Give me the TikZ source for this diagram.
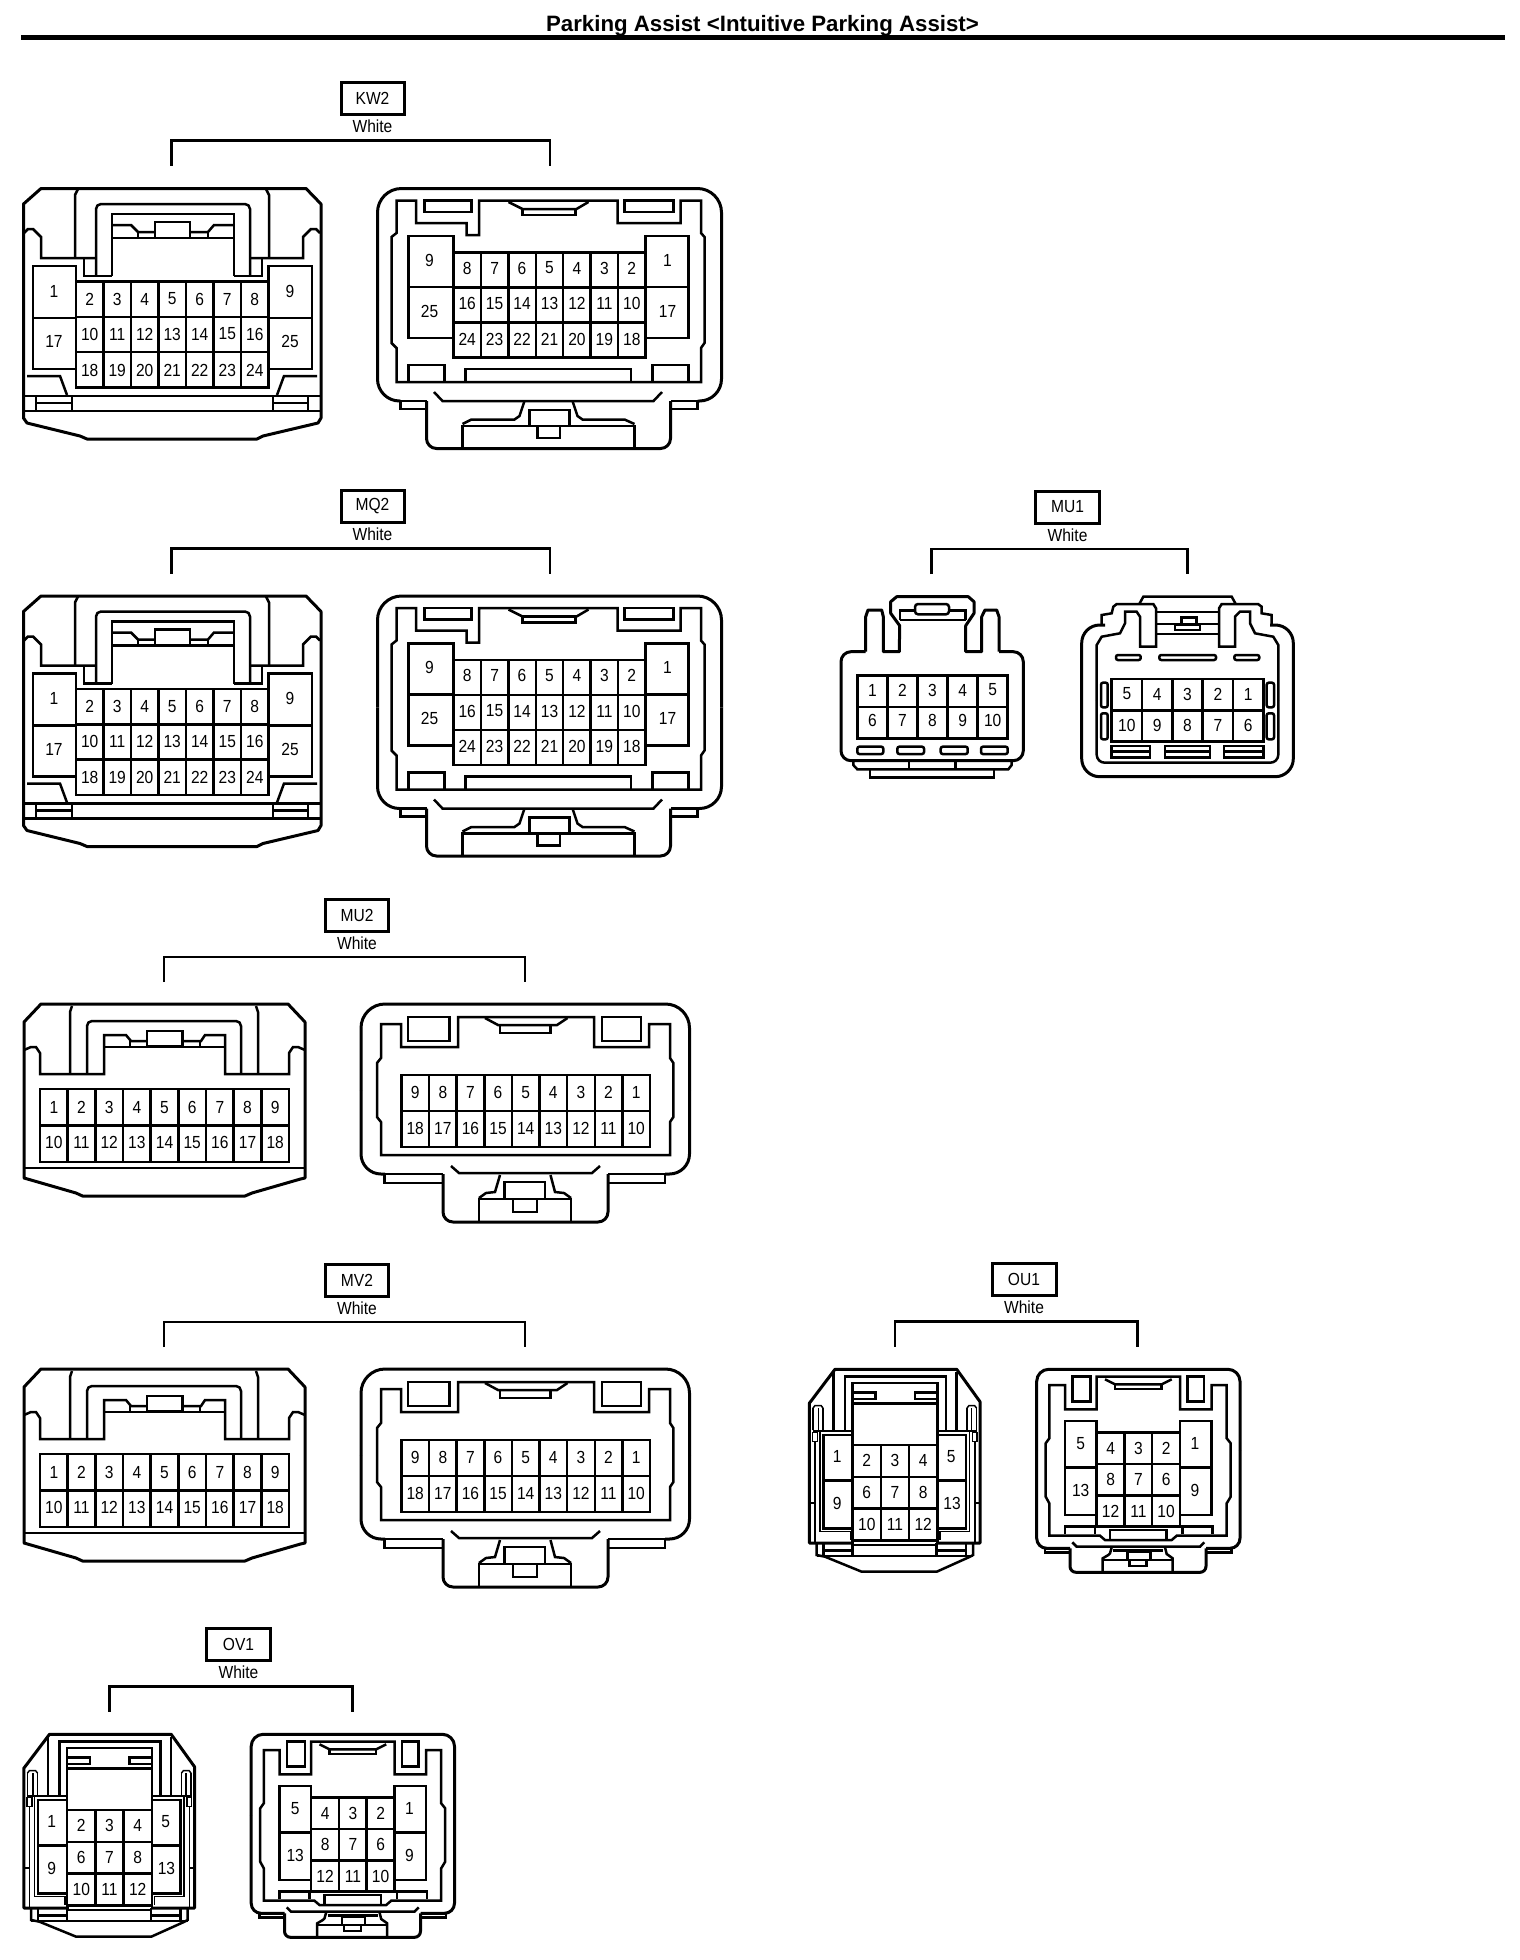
\documentclass[tikz,border=0pt]{standalone}
\usepackage{fontspec}
\setmainfont{Liberation Sans}
\newfontfamily\lblfont[FakeStretch=0.89]{Liberation Sans}
\tikzset{
  every path/.append style={line cap=butt},
  ln/.style={draw=black,line width=2.5pt,line join=miter},
  thinln/.style={draw=black,line width=1.5pt,line join=miter},
  ol/.style={draw=black,line width=3pt,line join=round},
  pinlab/.style={inner sep=0pt,font=\lblfont\fontsize{17.5}{17.5}\selectfont},
  tagbox/.style={draw=black,line width=3pt,inner sep=0pt,minimum height=32pt,font=\lblfont\fontsize{17.5}{17.5}\selectfont},
  colorlab/.style={inner sep=0pt,font=\lblfont\fontsize{17.5}{17.5}\selectfont}
}
% grid of pin cells
\newcommand{\cellgrid}[6]{%
  \draw[ln] (#1,#4) rectangle (#2,#5);
  \foreach \ci in {1,...,#3}{\draw[ln] ({#1+(#2-#1)*\ci/#3},#4) -- ({#1+(#2-#1)*\ci/#3},#5);}
  \foreach \cj in {1,...,#6}{\draw[ln] (#1,{#4+(#5-#4)*\cj/#6}) -- (#2,{#4+(#5-#4)*\cj/#6});}
}
% row of pin labels: prefix, x0, cell width, y, list
\newcommand{\pinrow}[5]{%
  \foreach \plab [count=\pi from 0] in {#5}{\node[pinlab] (#1-\plab) at ({#2+(\pi+.5)*#3},#4) {\plab};}
}
% header: prefix, text, cx, width, y, xa, xb
\newcommand{\head}[7]{%
  \node[tagbox,minimum width=#4pt] (#1) at (#3,#5) {#2};
  \node[colorlab] (#1w) at (#3,{#5+28}) {White};
  \coordinate (#1a) at (#6,{#5+67});
  \coordinate (#1b) at (#7,{#5+67});
  \draw[ln] (#1a) -- ++(0,-25) -| (#1b);
}
\newcommand{\kwpair}[1]{%
  % left connector
  \draw[ol] (41,188.5)--(306,188.5)--(321,204)--(321,418)--(318,423)--(263,436)--(257,439)--(87,439)--(80,436)--(27,423)--(23.5,418)--(23.5,204)--cycle;
  \draw[ln] (75,258)--(75,195)--(78,189);
  \draw[ln] (269,258)--(269,195)--(266,189);
  \draw[ln] (24,233)--(28,229)--(33,229)--(41,237)--(41,258)--(96,258);
  \draw[ln] (320,233)--(316,229)--(311,229)--(303,237)--(303,258)--(250,258);
  \draw[ln,rounded corners=5pt] (96,276)--(96,204)--(250,204)--(250,276);
  \draw[ln] (112,276)--(112,214)--(234,214)--(234,276);
  \draw[ln] (84,258)--(84,276)--(112,276);
  \draw[ln] (234,276)--(262,276)--(262,258);
  \draw[ln] (112,225)--(131,225)--(138,232)--(155,232);
  \draw[ln] (190,232)--(208,232)--(214,225)--(234,225);
  \draw[ln] (155,238) rectangle (190,222);
  \draw[ln] (112,238)--(234,238);
  \draw[ln] (138,232)--(138,238);
  \draw[ln] (208,232)--(208,238);
  \draw[ln] (33,266) rectangle (76,369);
  \draw[ln] (33,318)--(76,318);
  \draw[ln] (268.5,266) rectangle (312,369);
  \draw[ln] (268.5,318)--(312,318);
  \cellgrid{76}{268.5}{7}{281.5}{387.5}{3}
  \draw[ln] (27,376)--(60,376)--(67,395);
  \draw[ln] (317,376)--(284,376)--(277,395);
  \draw[ln] (23,396)--(321,396);
  \draw[ln] (23,411)--(321,411);
  \foreach \vx in {36,72,273,308}{\draw[ln] (\vx,396)--(\vx,411);}
  \draw[ln] (36,403)--(72,403);
  \draw[ln] (273,403)--(308,403);
  \pinrow{#1l}{76}{27.5}{299}{2,3,4,5,6,7,8}
  \pinrow{#1l}{76}{27.5}{334}{10,11,12,13,14,15,16}
  \pinrow{#1l}{76}{27.5}{370}{18,19,20,21,22,23,24}
  \node[pinlab] (#1l-1) at (54,291) {1};
  \node[pinlab] (#1l-17) at (54,341.5) {17};
  \node[pinlab] (#1l-9) at (290,291) {9};
  \node[pinlab] (#1l-25) at (290,341.5) {25};
  % right connector
  \begin{scope}[shift={(-1.5,0)}]
  \draw[ol,rounded corners=24pt] (379,300)--(379,188.5)--(723,188.5)--(723,300);
  \draw[ol,rounded corners=22pt] (379,300)--(379,401)--(402,401);
  \draw[ol,rounded corners=22pt] (723,300)--(723,401)--(699,401);
  \draw[ln] (402,401)--(402,409)--(428,409);
  \draw[ln] (699,401)--(699,409)--(672,409);
  \draw[ln] (399,401)--(428,401);
  \draw[ln] (702,401)--(672,401);
  \draw[ol,rounded corners=10pt] (428,401)--(428,448.5)--(672,448.5)--(672,401);
  \draw[ln] (398,200.5)--(417.5,200.5)--(417.5,223)--(468,223)--(468,235)--(480.5,235)--(480.5,200.5)--(619,200.5)--(619,223)--(682,223)--(682,200.5)--(702.5,200.5)--(702.5,233)--(706,237)--(706,343)--(702.5,348)--(702.5,382)--(398,382)--(398,348)--(393,343)--(393,237)--(398,233)--cycle;
  \draw[ln] (426,200.5) rectangle (473,212);
  \draw[ln] (626,200.5) rectangle (675,212);
  \draw[ln] (510,202)--(524,209)--(578,209)--(590,202);
  \draw[ln] (524,209) rectangle (577,215);
  \draw[ln] (410,236) rectangle (455,338);
  \draw[ln] (410,287)--(455,287);
  \draw[ln] (647,236) rectangle (690,338);
  \draw[ln] (647,287)--(690,287);
  \cellgrid{455}{647}{7}{252.5}{357.5}{3}
  \draw[ln] (410,382)--(410,365)--(446,365)--(446,382);
  \draw[ln] (467,382)--(467,369)--(632.5,369)--(632.5,382);
  \draw[ln] (654,382)--(654,365)--(690,365)--(690,382);
  \draw[ln] (435.5,392)--(444,401)--(655,401)--(663.5,392);
  \draw[ln] (526,401)--(521,416)--(516,419.5)--(473,419.5)--(464,424);
  \draw[ln] (574,401)--(579,416)--(584,419.5)--(626,419.5)--(636,424);
  \draw[ln] (464,448)--(464,426)--(636,426)--(636,448);
  \draw[ln] (531,426)--(531,410)--(571,410)--(571,426);
  \draw[ln] (539,426)--(539,438)--(561.6,438)--(561.6,426);
  \pinrow{#1r}{455}{27.43}{268}{8,7,6,5,4,3,2}
  \pinrow{#1r}{455}{27.43}{303.5}{16,15,14,13,12,11,10}
  \pinrow{#1r}{455}{27.43}{339}{24,23,22,21,20,19,18}
  \node[pinlab] (#1r-9) at (431,260) {9};
  \node[pinlab] (#1r-25) at (431,311) {25};
  \node[pinlab] (#1r-1) at (669,260) {1};
  \node[pinlab] (#1r-17) at (669,311) {17};
  \end{scope}
}
\newcommand{\mupair}[1]{%
  % left connector
  \draw[ol] (41,1004)--(288,1004)--(305,1022)--(305,1178)--(300.5,1179)--(252,1193)--(245,1196)--(82.5,1196)--(76,1193)--(27.5,1179)--(24,1178)--(24,1022)--cycle;
  \draw[ln] (70,1074)--(70,1012)--(72,1006);
  \draw[ln] (258,1074)--(258,1012)--(256,1006);
  \draw[ln,rounded corners=5pt] (87,1074)--(87,1021)--(241,1021)--(241,1074);
  \draw[ln] (24,1050)--(31,1047)--(36,1047)--(40,1053)--(40,1074)--(104,1074)--(104,1035)--(126,1035)--(131,1041)--(147,1041);
  \draw[ln] (305,1050)--(298,1047)--(293,1047)--(289,1053)--(289,1074)--(225,1074)--(225,1035)--(205,1035)--(201,1041)--(182.6,1041);
  \draw[ln] (147,1046) rectangle (182.6,1031);
  \draw[ln] (104,1047)--(225,1047);
  \draw[ln] (130,1041)--(130,1047);
  \draw[ln] (200,1041)--(200,1047);
  \cellgrid{40}{289}{9}{1089}{1162}{2}
  \draw[ln] (24,1168)--(305,1168);
  \pinrow{#1l}{40}{27.67}{1107.5}{1,2,3,4,5,6,7,8,9}
  \pinrow{#1l}{40}{27.67}{1142.5}{10,11,12,13,14,15,16,17,18}
  % right connector
  \draw[ol,rounded corners=24pt] (361,1090)--(361,1004)--(689.5,1004)--(689.5,1090);
  \draw[ol,rounded corners=20pt] (361,1090)--(361,1174)--(385,1174);
  \draw[ol,rounded corners=20pt] (689.5,1090)--(689.5,1174)--(665,1174);
  \draw[ln] (384.5,1174)--(443,1174);
  \draw[ln] (665,1174)--(608,1174);
  \draw[ln] (384.5,1174)--(384.5,1183)--(443,1183);
  \draw[ln] (665,1174)--(665,1183)--(608,1183);
  \draw[ol,rounded corners=10pt] (443,1174)--(443,1222)--(608,1222)--(608,1174);
  \draw[ln] (381,1024)--(401,1024)--(401,1047)--(458,1047)--(458,1017)--(594,1017)--(594,1047)--(649,1047)--(649,1024)--(670,1024)--(670,1058)--(673.4,1063)--(673.4,1117)--(670,1122)--(670,1155)--(381,1155)--(381,1122)--(377,1117)--(377,1063)--(381,1058)--cycle;
  \draw[ln] (408,1017) rectangle (449.5,1041);
  \draw[ln] (602,1017) rectangle (641,1041);
  \draw[ln] (485,1018)--(498,1025)--(557,1025)--(567.5,1018);
  \draw[ln] (500,1025) rectangle (550.5,1033);
  \cellgrid{401.4}{650}{9}{1075}{1147}{2}
  \draw[ln] (451,1166)--(459,1173)--(592,1173)--(600,1166);
  \draw[ln] (500,1175)--(495,1192)--(486,1193)--(479,1198);
  \draw[ln] (550.5,1175)--(555,1192)--(564,1193)--(571,1198);
  \draw[ln] (479,1222)--(479,1199)--(571,1199)--(571,1222);
  \draw[ln] (504.6,1199)--(504.6,1182)--(545,1182)--(545,1199);
  \draw[ln] (513,1199)--(513,1212)--(537,1212)--(537,1199);
  \pinrow{#1r}{401.4}{27.62}{1092.5}{9,8,7,6,5,4,3,2,1}
  \pinrow{#1r}{401.4}{27.62}{1128.5}{18,17,16,15,14,13,12,11,10}
}
\newcommand{\oupair}[1]{%
  % left connector
  \draw[ol] (835,1369.3)--(956.7,1369.3)--(980,1401.7)--(980,1543)--(809.3,1543)--(809.3,1403.3)--cycle;
  \fill[white] (854,1541.5) rectangle (936,1544.5);
  \draw[ln] (852.7,1545)--(937.3,1545);
  \draw[ln] (816.7,1543)--(816.7,1555)--(825,1556.7)--(861.7,1571.7)--(936.7,1571.7)--(970,1556.7)--(973,1555)--(973,1543);
  \draw[ln] (816.7,1556)--(973,1556);
  \foreach \vx in {823.3,852.7,936.7,966}{\draw[ln] (\vx,1543)--(\vx,1556);}
  \draw[ln] (823.3,1550.7)--(852.7,1550.7);
  \draw[ln] (936.7,1550.7)--(966,1550.7);
  \draw[ln] (833.3,1430)--(833.3,1372);
  \draw[ln] (956.7,1430)--(956.7,1372);
  \draw[ln] (845,1430)--(845,1376.7)--(946,1376.7)--(946,1430);
  \draw[ln] (852.7,1443.3)--(852.7,1383)--(937.3,1383)--(937.3,1443.3);
  \draw[ln] (852.7,1392.3)--(875.7,1392.3)--(875.7,1399)--(852.7,1399);
  \draw[ln] (937.3,1392.3)--(915,1392.3)--(915,1399)--(937.3,1399);
  \draw[ln] (852.7,1403.3)--(937.3,1403.3);
  \foreach \vx in {813,818.3,823}{\draw[thinln] (\vx,1430)--(\vx,1408);}
  \foreach \vx in {976.5,971.5,967}{\draw[thinln] (\vx,1430)--(\vx,1408);}
  \draw[thinln] (813,1408)--(815,1405.5)--(821,1405.5)--(823,1408);
  \draw[thinln] (976.5,1408)--(974.5,1405.5)--(969,1405.5)--(967,1408);
  \draw[ln] (812.7,1431)--(852.7,1431);
  \draw[ln] (937.3,1431)--(977,1431);
  \draw[thinln] (812.7,1432.7) rectangle (817.3,1441.7);
  \draw[thinln] (972.5,1432.7) rectangle (977,1441.7);
  \draw[thinln] (815,1441.7)--(815,1503)--(809.3,1503);
  \draw[thinln] (975,1441.7)--(975,1503)--(980,1503);
  \draw[thinln] (815,1503)--(815,1543);
  \draw[thinln] (975,1503)--(975,1543);
  \draw[thinln] (820,1431)--(820,1531.5)--(850.7,1531.5)--(850.7,1540);
  \draw[thinln] (969.5,1431)--(969.5,1531.5)--(940,1531.5)--(940,1540);
  \draw[ln] (823.3,1435) rectangle (852.7,1528.3);
  \draw[ln] (823.3,1480.7)--(852.7,1480.7);
  \draw[ln] (937.3,1435) rectangle (966,1528.3);
  \draw[ln] (937.3,1480.7)--(966,1480.7);
  \cellgrid{852.7}{937.3}{3}{1445}{1540.5}{3}
  \pinrow{#1l}{852.7}{28.2}{1460.5}{2,3,4}
  \pinrow{#1l}{852.7}{28.2}{1492}{6,7,8}
  \pinrow{#1l}{852.7}{28.2}{1524}{10,11,12}
  \node[pinlab] (#1l-1) at (837.3,1456.7) {1};
  \node[pinlab] (#1l-9) at (837.3,1503.3) {9};
  \node[pinlab] (#1l-5) at (951.3,1456.7) {5};
  \node[pinlab] (#1l-13) at (952,1503.3) {13};
  % right connector
  \draw[ol,rounded corners=12pt] (1036.7,1450)--(1036.7,1369.3)--(1240,1369.3)--(1240,1450);
  \draw[ol,rounded corners=10pt] (1036.7,1450)--(1036.7,1548.3)--(1070,1548.3);
  \draw[ol,rounded corners=10pt] (1240,1450)--(1240,1548.3)--(1206,1548.3);
  \draw[ln] (1045,1548.3)--(1045,1552.3)--(1070,1552.3);
  \draw[ln] (1231.7,1548.3)--(1231.7,1552.3)--(1206,1552.3);
  \draw[ol,rounded corners=6pt] (1070,1548.3)--(1070,1572.3)--(1206,1572.3)--(1206,1548.3);
  \draw[ln] (1049.3,1385)--(1065,1385)--(1065,1409.3)--(1096.7,1409.3)--(1096.7,1376.7)--(1180,1376.7)--(1180,1409.3)--(1211.7,1409.3)--(1211.7,1385)--(1226.7,1385)--(1226.7,1438.3)--(1230.7,1443.3)--(1230.7,1496.7)--(1226.7,1503.3)--(1226.7,1535.7)--(1176.7,1535.7)--(1171.7,1540)--(1105,1540)--(1100,1535.7)--(1049.3,1535.7)--(1049.3,1503.3)--(1045.7,1496.7)--(1045.7,1443.3)--(1049.3,1438.3)--cycle;
  \draw[ln] (1072.7,1376.7) rectangle (1090.7,1401.7);
  \draw[ln] (1187.3,1376.7) rectangle (1204,1401.7);
  \draw[ln] (1105,1379.3)--(1115,1384.3)--(1161.7,1384.3)--(1171.7,1379.3);
  \draw[ln] (1115,1384.3)--(1115,1389)--(1161.7,1389)--(1161.7,1384.3);
  \draw[ln] (1065,1421) rectangle (1096.7,1515);
  \draw[ln] (1065,1467.3)--(1096.7,1467.3);
  \draw[ln] (1180,1421) rectangle (1211.7,1515);
  \draw[ln] (1180,1467.3)--(1211.7,1467.3);
  \cellgrid{1096.7}{1180}{3}{1432.3}{1526.7}{3}
  \draw[ln] (1065,1534.3)--(1065,1526.7)--(1095,1526.7)--(1095,1534.3);
  \draw[ln] (1182.3,1534.3)--(1182.3,1526.7)--(1212.3,1526.7)--(1212.3,1534.3);
  \draw[ln] (1110,1539)--(1110,1530)--(1166.7,1530)--(1166.7,1539);
  \draw[ln] (1072.3,1542.3)--(1076.7,1546.7)--(1200,1546.7)--(1204.3,1542.3);
  \draw[ln] (1111.7,1547.3)--(1110,1553.3)--(1108.3,1555)--(1102.7,1558.3)--(1102.7,1572.3);
  \draw[ln] (1165,1547.3)--(1166.7,1554)--(1172.7,1558.3)--(1172.7,1572.3);
  \draw[ln] (1102.7,1560)--(1172.7,1560);
  \draw[ln] (1127.7,1560)--(1127.7,1551.7)--(1150.7,1551.7)--(1150.7,1560);
  \draw[ln] (1113,1550.7)--(1163,1550.7);
  \draw[ln] (1129.3,1560)--(1129.3,1566)--(1146.7,1566)--(1146.7,1560);
  \pinrow{#1r}{1096.7}{27.77}{1448}{4,3,2}
  \pinrow{#1r}{1096.7}{27.77}{1479}{8,7,6}
  \pinrow{#1r}{1096.7}{27.77}{1511}{12,11,10}
  \node[pinlab] (#1r-5) at (1080.7,1443.3) {5};
  \node[pinlab] (#1r-13) at (1080.7,1490.7) {13};
  \node[pinlab] (#1r-1) at (1195,1443.3) {1};
  \node[pinlab] (#1r-9) at (1195,1490.7) {9};
}
\begin{document}
\begin{tikzpicture}[x=1pt,y=-1pt]
\useasboundingbox (0,0) rectangle (1520,1960);
\fill[white] (0,0) rectangle (1520,1960);
% title
\node[inner sep=0pt,font=\fontsize{22.25}{22.25}\selectfont\bfseries] (title) at (762.5,25.5) {Parking Assist <Intuitive Parking Assist>};
\coordinate (rulea) at (21,37.5);
\coordinate (ruleb) at (1505,37.5);
\draw[line width=5pt] (rulea) -- (ruleb);
% KW2
\head{kw2}{KW2}{372.5}{63}{98.5}{171.5}{550}
\kwpair{kw}
% MQ2
\head{mq2}{MQ2}{372.5}{63}{506.5}{171.5}{550}
\begin{scope}[shift={(0,407.5)}]\kwpair{mq}\end{scope}
% MU2
\head{mu2}{MU2}{357}{63}{915}{164}{525}
\mupair{mu}
% MV2
\head{mv2}{MV2}{357}{63}{1280}{164}{525}
\begin{scope}[shift={(0,365)}]\mupair{mv}\end{scope}
% OU1
\head{ou1}{OU1}{1024}{64}{1279.5}{895}{1137.5}
\oupair{ou}
% OV1
\head{ov1}{OV1}{238.5}{64}{1644.5}{109.5}{352.5}
\begin{scope}[shift={(-785.5,365)}]\oupair{ov}\end{scope}
% MU1
\head{mu1}{MU1}{1067.5}{64}{507}{931.7}{1187.3}
% MU1 left
\draw[ol] (865.7,651.7)--(865.7,616.7)--(868,610)--(881.7,610)--(883.3,616.7)--(883.3,651.7)--(899.3,651.7)--(899.7,625.7)--(890.7,613.3)--(890.7,601.7)--(896.7,596.7)--(968.3,596.7)--(974,601.7)--(974,613.3)--(965.7,625.7)--(965.7,651.7)--(981.7,651.7)--(981.7,616.7)--(985,610)--(996.7,610)--(999,616.7)--(999,651.7);
\draw[ol,rounded corners=10pt] (865.7,651.7)--(841,651.7)--(841,760.7)--(1023.3,760.7)--(1023.3,651.7)--(999,651.7);
\draw[ln] (900,620)--(900,610.7)--(915,610.7);
\draw[ln] (949,610.7)--(965.7,610.7)--(965.7,620);
\draw[ln,rounded corners=3pt] (915,604) rectangle (949,614.3);
\draw[ln] (900,620)--(965.7,620);
\cellgrid{857.3}{1007.7}{5}{675.7}{738.3}{2}
\pinrow{mu1l}{857.3}{30.08}{690}{1,2,3,4,5}
\pinrow{mu1l}{857.3}{30.08}{720.7}{6,7,8,9,10}
\foreach \sa/\sb in {857.3/883.3,897.3/924,940.7/967.7,981/1007.7}{\draw[ln,rounded corners=2pt] (\sa,746.7) rectangle (\sb,754);}
\draw[ln] (853.3,760.7)--(853.3,765)--(857.3,769.3)--(1008.3,769.3)--(1011.7,765)--(1011.7,760.7);
\draw[ln] (909,760.7)--(909,769.3);
\draw[ln] (955.7,760.7)--(955.7,769.3);
\draw[ln] (870,769.3)--(870,777.7)--(994,777.7)--(994,769.3);
% MU1 right
\draw[ol,rounded corners=18pt] (1190,776.7)--(1081.7,776.7)--(1081.7,625)--(1105,625);
\draw[ol,rounded corners=18pt] (1190,776.7)--(1293.3,776.7)--(1293.3,625)--(1270,625);
\draw[ln] (1101.7,625)--(1101.7,615)--(1111.7,613.3)--(1113.3,606.7)--(1116.7,604)--(1153.3,604)--(1156,608.3)--(1156,646.7)--(1140,646.7)--(1140,616.7)--(1136.7,611.7)--(1125,611.7)--(1125,623.3)--(1120,633.3)--(1101.7,636.7)--(1096.7,645)--(1096.7,700);
\draw[ln] (1271.7,625)--(1271.7,615)--(1261.7,613.3)--(1261.7,606.7)--(1258,604)--(1221.7,604)--(1219,608.3)--(1219,646.7)--(1235,646.7)--(1235,616.7)--(1240,611.7)--(1250,611.7)--(1250,623.3)--(1255,633.3)--(1273.3,636.7)--(1278.3,645)--(1278.3,700);
\draw[ln,rounded corners=8pt] (1096.7,700)--(1096.7,762.7)--(1278.3,762.7)--(1278.3,700);
\draw[ln] (1139.3,604)--(1143.3,596.7)--(1231.7,596.7)--(1235.7,604);
\draw[ln] (1156,612)--(1219,612);
\draw[ln] (1156,624)--(1219,624);
\draw[ln] (1156,634)--(1219,634);
\draw[ln] (1181.7,624)--(1181.7,617.3)--(1196.7,617.3)--(1196.7,624);
\draw[ln] (1175,625) rectangle (1200,630);
\foreach \sa/\sb in {1116/1140.7,1159.3/1216,1234.3/1259.3}{\draw[ln,rounded corners=2pt] (\sa,655) rectangle (\sb,660);}
\cellgrid{1111.7}{1263.3}{5}{679}{741.7}{2}
\pinrow{mu1r}{1111.7}{30.32}{694}{5,4,3,2,1}
\pinrow{mu1r}{1111.7}{30.32}{725}{10,9,8,7,6}
\foreach \sa/\sb in {1101/1107.7,1266.7/1274}{
  \draw[ln,rounded corners=2pt] (\sa,682.7) rectangle (\sb,707.3);
  \draw[ln,rounded corners=2pt] (\sa,713.3) rectangle (\sb,739.3);}
\foreach \sa/\sb in {1111.7/1150,1165/1210,1224/1263.3}{
  \draw[ln] (\sa,746) rectangle (\sb,757.7);
  \draw[ln] (\sa,751.7)--(\sb,751.7);}
\end{tikzpicture}
\end{document}
